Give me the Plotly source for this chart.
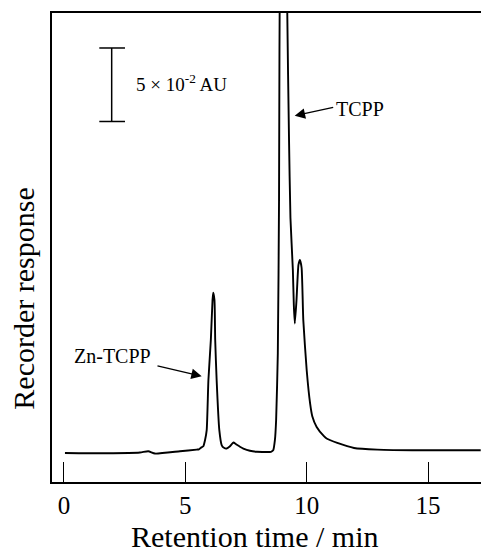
import plotly.graph_objects as go

# Chromatogram trace (retention time in min, absorbance in AU above baseline)
time_min = [0.04, 1.76, 3.13, 3.47, 3.75, 4.78, 5.47, 5.56, 5.64, 5.74, 5.81, 5.88, 5.95,
            6.05, 6.12, 6.15, 6.20, 6.23, 6.29, 6.40, 6.50, 6.59, 6.70, 6.84, 6.98, 7.09,
            7.25, 7.39, 7.66, 7.95, 8.28, 8.53, 8.62, 8.69, 8.74, 8.81, 8.86, 8.91, 9.04,
            9.18, 9.20, 9.27, 9.33, 9.43, 9.47, 9.51, 9.58, 9.66, 9.72, 9.79, 9.86, 10.00,
            10.14, 10.23, 10.41, 10.71, 10.82, 11.26, 11.95, 12.91, 14.67, 17.17]
absorbance = [0.0, -0.0002, 0.0003, 0.0012, -0.0004, 0.0012, 0.0023, 0.0025, 0.0035, 0.0046,
              0.0087, 0.0155, 0.0495, 0.0768, 0.1040, 0.1090, 0.1040, 0.0768, 0.0495, 0.0155,
              0.0052, 0.0035, 0.0030, 0.0046, 0.0071, 0.0059, 0.0042, 0.0030, 0.0015, 0.0008,
              0.0007, 0.0008, 0.0018, 0.0087, 0.0223, 0.0679, 0.172, 0.38, 0.45, 0.38, 0.2993,
              0.215, 0.160, 0.1245, 0.1006, 0.0881, 0.104, 0.128, 0.1313, 0.126, 0.0904,
              0.0563, 0.0337, 0.025, 0.0177, 0.0114, 0.0098, 0.0068, 0.0034, 0.0023, 0.0018,
              0.0018]

# Scale bar (5 x 10^-2 AU)
scalebar_x = 1.965
scalebar_y = [0.2255, 0.2755]
scalebar_cap = [1.455, 2.513]

x_ticks = [0, 5, 10, 15]
x_range = [-0.494, 17.47]
y_range = [-0.01975, 0.2993]

# Peak labels: text position, arrow tail, arrow head
peak_labels = ["Zn-TCPP", "TCPP"]
label_pos = [(0.31, 0.0659), (11.115, 0.2340)]
arrow_tail = [(3.79, 0.0595), (11.154, 0.2353)]
arrow_head = [(5.674, 0.0522), (9.506, 0.2294)]

FONT = "Liberation Serif, Times New Roman, serif"

fig = go.Figure()
fig.add_trace(go.Scatter(x=time_min, y=absorbance, mode="lines",
                         line=dict(color="black", width=1.9, shape="spline", smoothing=0.5),
                         showlegend=False, hoverinfo="skip"))

sb_x = [scalebar_x, scalebar_x, None, scalebar_cap[0], scalebar_cap[1], None,
        scalebar_cap[0], scalebar_cap[1]]
sb_y = [scalebar_y[0], scalebar_y[1], None, scalebar_y[0], scalebar_y[0], None,
        scalebar_y[1], scalebar_y[1]]
fig.add_trace(go.Scatter(x=sb_x, y=sb_y, mode="lines",
                         line=dict(color="black", width=1.5),
                         showlegend=False, hoverinfo="skip"))

annotations = []
annotations.append(dict(x=2.88, y=0.2515, xref="x", yref="y", text="5 × 10<sup>-2</sup> AU",
                        showarrow=False, xanchor="left", yanchor="middle",
                        font=dict(family=FONT, size=19, color="black")))
for name, (tx, ty), (ax_, ay_), (hx, hy) in zip(peak_labels, label_pos, arrow_tail, arrow_head):
    annotations.append(dict(x=tx, y=ty, xref="x", yref="y", text=name, showarrow=False,
                            xanchor="left", yanchor="middle",
                            font=dict(family=FONT, size=20, color="black")))
    annotations.append(dict(x=hx, y=hy, xref="x", yref="y", ax=ax_, ay=ay_, axref="x", ayref="y",
                            text="", showarrow=True, arrowhead=2, arrowsize=1.6,
                            arrowwidth=1.3, arrowcolor="black"))
annotations.append(dict(x=0.4645, y=-0.117, xref="paper", yref="paper",
                        text="Retention time / min", showarrow=False,
                        xanchor="center", yanchor="middle",
                        font=dict(family=FONT, size=30, color="black")))
annotations.append(dict(x=-0.0652, y=0.390, xref="paper", yref="paper",
                        text="Recorder response", showarrow=False, textangle=-90,
                        xanchor="center", yanchor="middle",
                        font=dict(family=FONT, size=30, color="black")))

# The page body has an 8px default margin, so the figure is sized to fit inside it.
fig.update_layout(
    width=481, height=544,
    margin=dict(l=44, r=1, t=5, b=70),
    paper_bgcolor="white", plot_bgcolor="white",
    annotations=annotations,
    shapes=[dict(type="line", xref="paper", yref="paper", x0=1, x1=1, y0=0, y1=1,
                 line=dict(color="#c8c8c8", width=1))],
    xaxis=dict(range=x_range, tickvals=x_ticks, ticktext=[str(v) for v in x_ticks],
               ticks="inside", ticklen=20, tickwidth=1.2, tickcolor="black",
               showline=True, linecolor="black", linewidth=1.5, mirror=True,
               showgrid=False, zeroline=False,
               tickfont=dict(family=FONT, size=25, color="black")),
    yaxis=dict(range=y_range, showline=True, linecolor="black", linewidth=1.5,
               showticklabels=False, ticks="", showgrid=False, zeroline=False),
)

fig.write_html("out.html")
